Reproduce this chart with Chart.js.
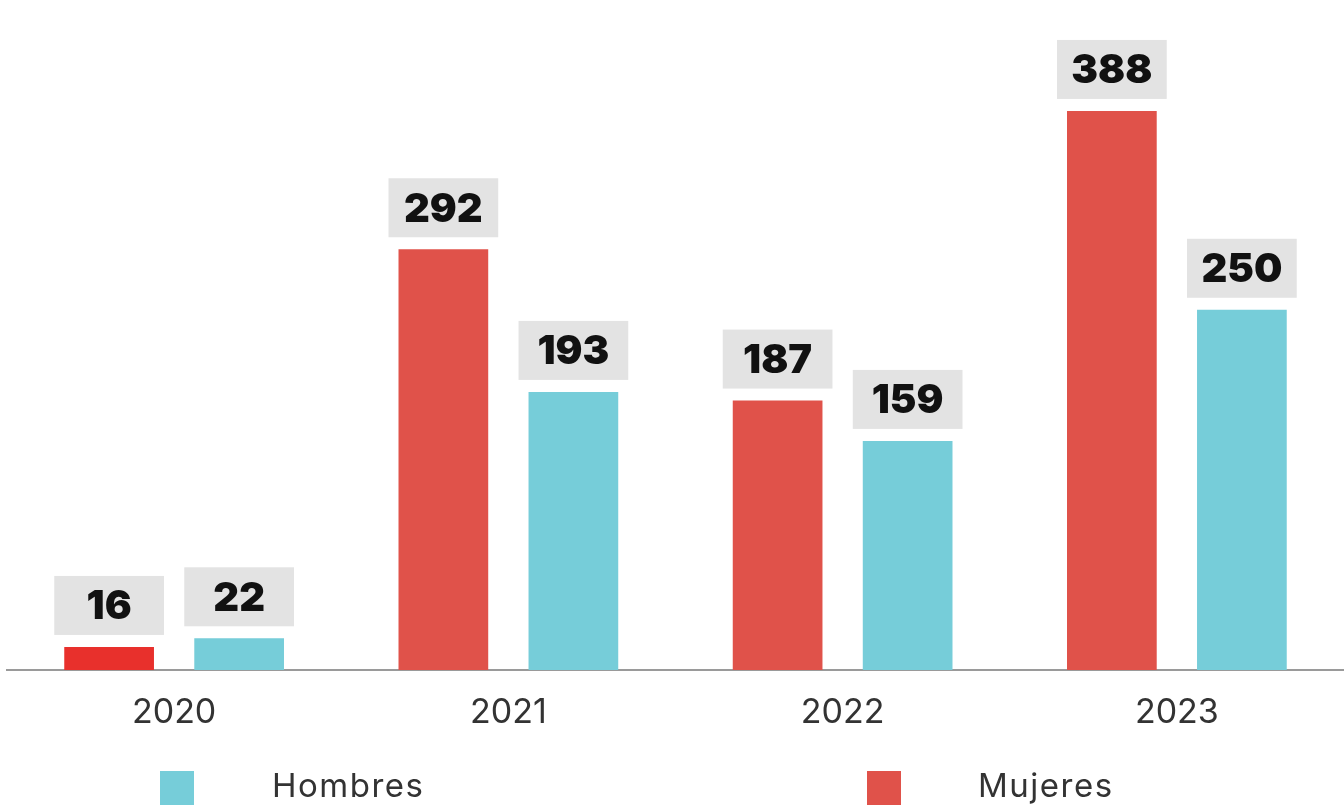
<!DOCTYPE html>
<html>
<head>
<meta charset="utf-8">
<script src="https://cdn.jsdelivr.net/npm/chart.js@4.4.0/dist/chart.umd.min.js"></script>
<style>
  html, body { margin: 0; padding: 0; background: #fff; }
  #wrap { position: relative; width: 1344px; height: 809px; }
  #legend { position: absolute; left: 0; top: 0; width: 1344px; height: 809px; pointer-events: none; }
  .sw { position: absolute; width: 34px; height: 34px; top: 771px; }
  .lt { position: absolute; top: 765px; font: 400 33px Inter, sans-serif; letter-spacing: 1.5px; color: #333; line-height: 40px; }
</style>
</head>
<body>
<div id="wrap">
  <canvas id="genderChart" width="1344" height="809"></canvas>
  <div id="legend">
    <div class="sw" style="left:160px;background:#76CDD9"></div>
    <div class="lt" style="left:272px">Hombres</div>
    <div class="sw" style="left:867px;background:#E0524A"></div>
    <div class="lt" style="left:978px">Mujeres</div>
  </div>
</div>
<script>
// data
const years = ['2020', '2021', '2022', '2023'];
const mujeres = [16, 292, 187, 388];
const hombres = [22, 193, 159, 250];

const mujeresColors = ['#E8302C', '#E0524A', '#E0524A', '#E0524A'];
const hombresColor = '#76CDD9';

// grey boxes with the value above each bar
const valueBoxes = {
    id: 'valueBoxes',
    afterDatasetsDraw(chart) {
        const ctx = chart.ctx;
        ctx.save();
        chart.data.datasets.forEach((ds, i) => {
            chart.getDatasetMeta(i).data.forEach((bar, j) => {
                const w = bar.width + 20;
                const h = 59;
                const bottom = bar.y - 12;
                ctx.fillStyle = '#E3E3E3';
                ctx.fillRect(bar.x - w / 2, bottom - h, w, h);
                ctx.fillStyle = '#111';
                ctx.font = '900 40px Inter, sans-serif';
                ctx.textAlign = 'center';
                ctx.textBaseline = 'middle';
                ctx.fillText(ds.data[j], bar.x, bottom - h / 2 + 2);
            });
        });
        ctx.restore();
    }
};

const config = {
    type: 'bar',
    data: {
        labels: years,
        datasets: [
            {
                label: 'Mujeres',
                data: mujeres,
                backgroundColor: mujeresColors,
                borderWidth: 0
            },
            {
                label: 'Hombres',
                data: hombres,
                backgroundColor: hombresColor,
                borderWidth: 0
            }
        ]
    },
    options: {
        responsive: false,
        animation: false,
        categoryPercentage: 0.778,
        barPercentage: 0.69,
        layout: {
            padding: { left: 7, right: 0, top: 0, bottom: 49 }
        },
        scales: {
            x: {
                grid: { display: false },
                border: { display: true, color: '#9A9A9A', width: 2 },
                ticks: {
                    color: '#333',
                    font: { family: 'Inter', size: 34 },
                    padding: 14
                },
                afterFit(scale) { scale.height = 90; }
            },
            y: {
                display: false,
                min: 0,
                max: 465
            }
        },
        plugins: {
            legend: { display: false },
            tooltip: { enabled: false }
        }
    },
    plugins: [valueBoxes]
};

const genderChart = new Chart(document.querySelector('#genderChart'), config);
</script>
</body>
</html>
